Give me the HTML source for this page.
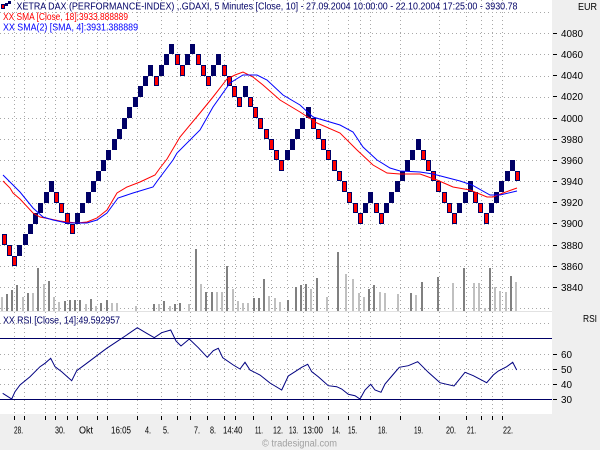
<!DOCTYPE html>
<html><head><meta charset="utf-8"><style>
html,body{margin:0;padding:0;background:#efefef;}
svg{display:block;font-family:"Liberation Sans",sans-serif;}
</style></head><body>
<svg width="600" height="450" viewBox="0 0 600 450" xmlns="http://www.w3.org/2000/svg">
<rect x="0" y="0" width="600" height="450" fill="#efefef"/>
<rect x="0" y="0" width="552" height="311" fill="#ffffff"/>
<rect x="0" y="311" width="552" height="1" fill="#e2e2e2"/>
<rect x="0" y="312" width="552" height="102" fill="#ffffff"/>

<!-- grid -->
<g stroke="#a8a8a8" stroke-width="1" stroke-dasharray="1,3" fill="none">
<path d="M0 12.5H552M0 33.5H552M0 54.5H552M0 76.5H552M0 97.5H552M0 118.5H552M0 139.5H552M0 160.5H552M0 181.5H552M0 203.5H552M0 224.5H552M0 245.5H552M0 266.5H552M0 287.5H552M0 308.5H552"/>
<path d="M0 323.5H552M0 354.5H552M0 369.5H552M0 384.5H552"/>
<path d="M14.5 0V414M24.5 0V414M45.5 0V414M55.5 0V414M67.5 0V414M77.5 0V414M97.5 0V414M107.5 0V414M137.5 0V414M161.5 0V414M177.5 0V414M190.5 0V414M207.5 0V414M224.5 0V414M235.5 0V414M253.5 0V414M271.5 0V414M287.5 0V414M303.5 0V414M313.5 0V414M328.5 0V414M348.5 0V414M360.5 0V414M370.5 0V414M400.5 0V414M439.5 0V414M466.5 0V414M481.5 0V414M492.5 0V414M502.5 0V414"/>
</g>

<!-- volume bars -->
<g fill="#c0c0c0">
<rect x="1" y="297" width="2" height="14"/><rect x="22" y="297" width="2" height="14"/><rect x="32" y="293" width="2" height="18"/><rect x="43" y="284" width="2" height="27"/><rect x="53" y="297" width="2" height="14"/><rect x="58" y="302" width="2" height="9"/><rect x="85" y="304" width="2" height="7"/><rect x="95" y="306" width="2" height="5"/><rect x="111" y="303" width="2" height="8"/><rect x="116" y="303" width="2" height="8"/><rect x="135" y="306" width="2" height="5"/><rect x="158" y="304" width="2" height="7"/><rect x="169" y="306" width="2" height="5"/><rect x="188" y="304" width="2" height="7"/><rect x="200" y="284" width="2" height="27"/><rect x="216" y="292" width="2" height="19"/><rect x="221" y="292" width="2" height="19"/><rect x="232" y="289" width="2" height="22"/><rect x="237" y="301" width="2" height="10"/><rect x="242" y="303" width="2" height="8"/><rect x="247" y="303" width="2" height="8"/><rect x="268" y="296" width="2" height="15"/><rect x="274" y="298" width="2" height="13"/><rect x="279" y="302" width="2" height="9"/><rect x="310" y="289" width="2" height="22"/><rect x="326" y="297" width="2" height="14"/><rect x="345" y="274" width="2" height="37"/><rect x="352" y="279" width="2" height="32"/><rect x="358" y="293" width="2" height="18"/><rect x="363" y="297" width="2" height="14"/><rect x="379" y="292" width="2" height="19"/><rect x="384" y="293" width="2" height="18"/><rect x="397" y="294" width="2" height="17"/><rect x="415" y="295" width="2" height="16"/><rect x="452" y="283" width="2" height="28"/><rect x="473" y="283" width="2" height="28"/><rect x="478" y="283" width="2" height="28"/><rect x="484" y="308" width="2" height="3"/><rect x="494" y="287" width="2" height="24"/><rect x="499" y="291" width="2" height="20"/><rect x="505" y="292" width="2" height="19"/><rect x="515" y="282" width="2" height="29"/>
</g>
<g fill="#808080">
<rect x="6" y="294" width="2" height="17"/><rect x="11" y="290" width="2" height="21"/><rect x="16" y="285" width="2" height="26"/><rect x="27" y="293" width="2" height="18"/><rect x="37" y="268" width="2" height="43"/><rect x="48" y="281" width="2" height="30"/><rect x="64" y="301" width="2" height="10"/><rect x="69" y="300" width="2" height="11"/><rect x="74" y="300" width="2" height="11"/><rect x="79" y="300" width="2" height="11"/><rect x="90" y="299" width="2" height="12"/><rect x="100" y="303" width="2" height="8"/><rect x="106" y="300" width="2" height="11"/><rect x="153" y="304" width="2" height="7"/><rect x="163" y="301" width="2" height="10"/><rect x="174" y="304" width="2" height="7"/><rect x="179" y="303" width="2" height="8"/><rect x="195" y="249" width="2" height="62"/><rect x="205" y="292" width="2" height="19"/><rect x="211" y="292" width="2" height="19"/><rect x="226" y="266" width="2" height="45"/><rect x="253" y="298" width="2" height="13"/><rect x="258" y="298" width="2" height="13"/><rect x="263" y="279" width="2" height="32"/><rect x="287" y="300" width="2" height="11"/><rect x="295" y="287" width="2" height="24"/><rect x="300" y="285" width="2" height="26"/><rect x="305" y="284" width="2" height="27"/><rect x="316" y="278" width="2" height="33"/><rect x="337" y="252" width="2" height="59"/><rect x="368" y="289" width="2" height="22"/><rect x="373" y="285" width="2" height="26"/><rect x="410" y="293" width="2" height="18"/><rect x="421" y="282" width="2" height="29"/><rect x="437" y="277" width="2" height="34"/><rect x="463" y="268" width="2" height="43"/><rect x="489" y="268" width="2" height="43"/><rect x="510" y="276" width="2" height="35"/>
</g>

<!-- renko bricks: up (navy) -->
<g fill="#000066">
<rect x="17" y="245" width="5" height="11"/><rect x="23" y="234" width="5" height="11"/><rect x="28" y="224" width="5" height="10"/><rect x="33" y="213" width="5" height="11"/><rect x="38" y="203" width="5" height="10"/><rect x="44" y="192" width="5" height="11"/><rect x="49" y="181" width="5" height="11"/>
<rect x="75" y="213" width="5" height="11"/><rect x="80" y="203" width="5" height="10"/><rect x="86" y="192" width="5" height="11"/><rect x="91" y="181" width="5" height="11"/><rect x="96" y="171" width="5" height="10"/><rect x="101" y="160" width="5" height="11"/><rect x="106" y="150" width="5" height="10"/><rect x="112" y="139" width="5" height="11"/><rect x="117" y="129" width="5" height="10"/><rect x="122" y="118" width="5" height="11"/><rect x="127" y="107" width="5" height="11"/><rect x="133" y="97" width="5" height="10"/><rect x="138" y="86" width="5" height="11"/><rect x="143" y="76" width="5" height="10"/><rect x="148" y="65" width="5" height="11"/>
<rect x="159" y="65" width="5" height="11"/><rect x="164" y="54" width="5" height="11"/><rect x="169" y="44" width="5" height="10"/>
<rect x="185" y="54" width="5" height="11"/><rect x="190" y="44" width="5" height="10"/>
<rect x="211" y="65" width="5" height="11"/><rect x="216" y="54" width="5" height="11"/>
<rect x="243" y="86" width="5" height="11"/>
<rect x="285" y="150" width="5" height="10"/><rect x="290" y="139" width="5" height="11"/><rect x="295" y="129" width="5" height="10"/><rect x="300" y="118" width="5" height="11"/><rect x="306" y="107" width="5" height="11"/>
<rect x="363" y="203" width="5" height="10"/><rect x="368" y="192" width="5" height="11"/>
<rect x="384" y="203" width="5" height="10"/><rect x="389" y="192" width="5" height="11"/><rect x="395" y="181" width="5" height="11"/><rect x="400" y="171" width="5" height="10"/><rect x="405" y="160" width="5" height="11"/><rect x="410" y="150" width="5" height="10"/><rect x="416" y="139" width="5" height="11"/>
<rect x="457" y="203" width="5" height="10"/><rect x="463" y="192" width="5" height="11"/><rect x="468" y="181" width="5" height="11"/>
<rect x="489" y="203" width="5" height="10"/><rect x="494" y="192" width="5" height="11"/><rect x="499" y="181" width="5" height="11"/><rect x="505" y="171" width="5" height="10"/><rect x="510" y="160" width="5" height="11"/>
</g>
<!-- renko bricks: down (red) -->
<g fill="#ff0000" stroke="#000066" stroke-width="1">
<rect x="2.5" y="234.5" width="4" height="10"/><rect x="7.5" y="245.5" width="4" height="10"/><rect x="12.5" y="256.5" width="4" height="9"/>
<rect x="54.5" y="192.5" width="4" height="10"/><rect x="59.5" y="203.5" width="4" height="9"/><rect x="65.5" y="213.5" width="4" height="10"/><rect x="70.5" y="224.5" width="4" height="9"/>
<rect x="154.5" y="76.5" width="4" height="9"/>
<rect x="175.5" y="54.5" width="4" height="10"/><rect x="180.5" y="65.5" width="4" height="10"/>
<rect x="196.5" y="54.5" width="4" height="10"/><rect x="201.5" y="65.5" width="4" height="10"/><rect x="206.5" y="76.5" width="4" height="9"/>
<rect x="222.5" y="65.5" width="4" height="10"/><rect x="227.5" y="76.5" width="4" height="9"/><rect x="232.5" y="86.5" width="4" height="10"/><rect x="237.5" y="97.5" width="4" height="9"/>
<rect x="248.5" y="97.5" width="4" height="9"/><rect x="253.5" y="107.5" width="4" height="10"/><rect x="258.5" y="118.5" width="4" height="10"/><rect x="264.5" y="129.5" width="4" height="9"/><rect x="269.5" y="139.5" width="4" height="10"/><rect x="274.5" y="150.5" width="4" height="9"/><rect x="279.5" y="160.5" width="4" height="10"/>
<rect x="311.5" y="118.5" width="4" height="10"/><rect x="316.5" y="129.5" width="4" height="9"/><rect x="321.5" y="139.5" width="4" height="10"/><rect x="326.5" y="150.5" width="4" height="9"/><rect x="332.5" y="160.5" width="4" height="10"/><rect x="337.5" y="171.5" width="4" height="9"/><rect x="342.5" y="181.5" width="4" height="10"/><rect x="347.5" y="192.5" width="4" height="10"/><rect x="353.5" y="203.5" width="4" height="9"/><rect x="358.5" y="213.5" width="4" height="10"/>
<rect x="374.5" y="203.5" width="4" height="9"/><rect x="379.5" y="213.5" width="4" height="10"/>
<rect x="421.5" y="150.5" width="4" height="9"/><rect x="426.5" y="160.5" width="4" height="10"/><rect x="431.5" y="171.5" width="4" height="9"/><rect x="436.5" y="181.5" width="4" height="10"/><rect x="442.5" y="192.5" width="4" height="10"/><rect x="447.5" y="203.5" width="4" height="9"/><rect x="452.5" y="213.5" width="4" height="10"/>
<rect x="473.5" y="192.5" width="4" height="10"/><rect x="478.5" y="203.5" width="4" height="9"/><rect x="484.5" y="213.5" width="4" height="10"/>
<rect x="515.5" y="171.5" width="4" height="9"/>
</g>

<!-- SMA lines -->
<polyline fill="none" stroke="#ff0000" stroke-width="1" points="3,181 10,188 13,193 20,199 33,213 40,217 50,219 60,221 67,222 77,223 87,222 97,218 107,210 117,193 127,187 140,182 155,175 160,168 167,159 180,137 200,113 213,97 227,79 235,75 243,72 253,77 263,85 280,100 300,112 317,123 340,133 357,150 373,165 387,173 400,174 420,174 437,180 453,187 470,190 487,197 493,197 503,193 517,188"/>
<polyline fill="none" stroke="#0000ff" stroke-width="1" points="3,175 10,182 20,192 33,208 43,217 53,220 67,223 87,223 97,220 107,213 118,198 133,193 153,187 158,180 173,160 177,153 200,130 213,107 230,83 243,75 257,75 267,80 283,95 300,105 313,117 340,125 353,132 363,147 377,160 390,168 400,171 420,172 433,174 460,181 472,185 490,195 500,195 517,191"/>

<!-- RSI -->
<rect x="0" y="338" width="552" height="1" fill="#000066"/>
<rect x="0" y="399" width="552" height="1" fill="#000066"/>
<polyline fill="none" stroke="#000080" stroke-width="1" points="2.7,393.3 11.7,399 15,391.7 20,385 30,376.7 40,366.7 45,363.3 50.7,358.3 55,366.7 61.7,371.7 71.7,380.7 76.7,370.7 86.7,363.3 100,353.3 106.7,348.3 116.7,341.7 126.7,335 137.3,327.7 146.7,333.3 154.3,337.7 161.7,332.7 170.7,330 176,341 181,346 189.3,339 198.3,347.7 207.3,357.3 213.3,350.7 218.3,348.3 222.7,357.7 233.3,365 240,369 245,362.3 250,370 260,375 270,383 275,386 281.7,390 288.3,376 295,371.7 301.7,367.3 307.7,364.3 311.7,371.7 318.3,376.7 328.3,385.7 336.7,386.7 341.7,389 348.3,394.3 355,395.7 360,399 365,390 370.7,384.3 375,390 381,392.3 385,384 392.7,375 399.3,367.3 408.3,365.7 417.7,361.7 428.3,372.3 440,382.7 446.7,384.3 454,386 465,372.3 473.3,375.7 486.7,382.7 493.3,375 498.3,371 506.7,366.7 512.7,362.3 516.7,370"/>

<!-- legend -->
<rect x="1.5" y="4.5" width="3" height="4" fill="#ff0000" stroke="#000066"/>
<rect x="5" y="3" width="3" height="3" fill="#000066"/>
<rect x="8" y="1" width="3" height="3" fill="#000066"/>
<g font-size="10">
<text x="16.5" y="9.5" fill="#000066" textLength="501" lengthAdjust="spacingAndGlyphs">XETRA DAX (PERFORMANCE-INDEX) ,.GDAXI, 5 Minutes [Close, 10] - 27.09.2004 10:00:00 - 22.10.2004 17:25:00 - 3930.78</text>
<text x="3" y="20" fill="#ff0000" textLength="125" lengthAdjust="spacingAndGlyphs">XX SMA [Close, 18]:3933.888889</text>
<text x="3" y="30.5" fill="#0000ff" textLength="135" lengthAdjust="spacingAndGlyphs">XX SMA(2) [SMA, 4]:3931.388889</text>
<text x="3" y="323.5" fill="#000066" textLength="117" lengthAdjust="spacingAndGlyphs">XX RSI [Close, 14]:49.592957</text>
</g>

<!-- right axis -->
<g stroke="#000" stroke-width="1">
<path d="M553 33.5H557M553 54.5H557M553 75.5H557M553 96.5H557M553 118.5H557M553 139.5H557M553 160.5H557M553 181.5H557M553 202.5H557M553 223.5H557M553 245.5H557M553 266.5H557M553 287.5H557"/>
<path d="M553 354.5H557M553 369.5H557M553 384.5H557M553 399.5H557"/>
</g>
<g font-size="10" fill="#000">
<text x="578" y="10" textLength="19" lengthAdjust="spacingAndGlyphs">EUR</text>
<text x="583" y="322" textLength="14" lengthAdjust="spacingAndGlyphs">RSI</text>
<g>
<text x="561" y="37" textLength="22" lengthAdjust="spacingAndGlyphs">4080</text>
<text x="561" y="58" textLength="22" lengthAdjust="spacingAndGlyphs">4060</text>
<text x="561" y="79" textLength="22" lengthAdjust="spacingAndGlyphs">4040</text>
<text x="561" y="100" textLength="22" lengthAdjust="spacingAndGlyphs">4020</text>
<text x="561" y="122" textLength="22" lengthAdjust="spacingAndGlyphs">4000</text>
<text x="561" y="143" textLength="22" lengthAdjust="spacingAndGlyphs">3980</text>
<text x="561" y="164" textLength="22" lengthAdjust="spacingAndGlyphs">3960</text>
<text x="561" y="185" textLength="22" lengthAdjust="spacingAndGlyphs">3940</text>
<text x="561" y="206" textLength="22" lengthAdjust="spacingAndGlyphs">3920</text>
<text x="561" y="227" textLength="22" lengthAdjust="spacingAndGlyphs">3900</text>
<text x="561" y="249" textLength="22" lengthAdjust="spacingAndGlyphs">3880</text>
<text x="561" y="270" textLength="22" lengthAdjust="spacingAndGlyphs">3860</text>
<text x="561" y="291" textLength="22" lengthAdjust="spacingAndGlyphs">3840</text>
<text x="561" y="358" textLength="11" lengthAdjust="spacingAndGlyphs">60</text>
<text x="561" y="373" textLength="11" lengthAdjust="spacingAndGlyphs">50</text>
<text x="561" y="388" textLength="11" lengthAdjust="spacingAndGlyphs">40</text>
<text x="561" y="403" textLength="11" lengthAdjust="spacingAndGlyphs">30</text>
</g>
</g>

<!-- x axis ticks -->
<g stroke="#000" stroke-width="1">
<path d="M14.5 416V420M24.5 416V420M45.5 416V420M55.5 416V420M67.5 416V420M77.5 416V420M97.5 416V420M107.5 416V420M137.5 416V420M161.5 416V420M177.5 416V420M190.5 416V420M207.5 416V420M224.5 416V420M235.5 416V420M253.5 416V420M271.5 416V420M287.5 416V420M303.5 416V420M313.5 416V420M328.5 416V420M348.5 416V420M360.5 416V420M370.5 416V420M400.5 416V420M439.5 416V420M466.5 416V420M481.5 416V420M492.5 416V420M502.5 416V420"/>
</g>
<g font-size="10" fill="#000">
<text x="14" y="433.5" textLength="9" lengthAdjust="spacingAndGlyphs">28.</text>
<text x="55" y="433.5" textLength="10" lengthAdjust="spacingAndGlyphs">30.</text>
<text x="79" y="433.5" textLength="14" lengthAdjust="spacingAndGlyphs">Okt</text>
<text x="111" y="433.5" textLength="20" lengthAdjust="spacingAndGlyphs">16:05</text>
<text x="145" y="433.5" textLength="6" lengthAdjust="spacingAndGlyphs">4.</text>
<text x="163" y="433.5" textLength="6" lengthAdjust="spacingAndGlyphs">5.</text>
<text x="194" y="433.5" textLength="6" lengthAdjust="spacingAndGlyphs">7.</text>
<text x="210" y="433.5" textLength="6" lengthAdjust="spacingAndGlyphs">8.</text>
<text x="223" y="433.5" textLength="19.5" lengthAdjust="spacingAndGlyphs">14:40</text>
<text x="255" y="433.5" textLength="8" lengthAdjust="spacingAndGlyphs">11.</text>
<text x="273" y="433.5" textLength="10" lengthAdjust="spacingAndGlyphs">12.</text>
<text x="289" y="433.5" textLength="9" lengthAdjust="spacingAndGlyphs">13.</text>
<text x="303" y="433.5" textLength="20" lengthAdjust="spacingAndGlyphs">13:00</text>
<text x="332" y="433.5" textLength="8.5" lengthAdjust="spacingAndGlyphs">14.</text>
<text x="348" y="433.5" textLength="9" lengthAdjust="spacingAndGlyphs">15.</text>
<text x="378" y="433.5" textLength="9" lengthAdjust="spacingAndGlyphs">18.</text>
<text x="414" y="433.5" textLength="9" lengthAdjust="spacingAndGlyphs">19.</text>
<text x="446" y="433.5" textLength="10" lengthAdjust="spacingAndGlyphs">20.</text>
<text x="467" y="433.5" textLength="9" lengthAdjust="spacingAndGlyphs">21.</text>
<text x="503" y="433.5" textLength="10" lengthAdjust="spacingAndGlyphs">22.</text>
</g>
<text x="262" y="446.5" font-size="10" fill="#a0a0a0" textLength="75" lengthAdjust="spacingAndGlyphs">© tradesignal.com</text>
</svg>
</body></html>
